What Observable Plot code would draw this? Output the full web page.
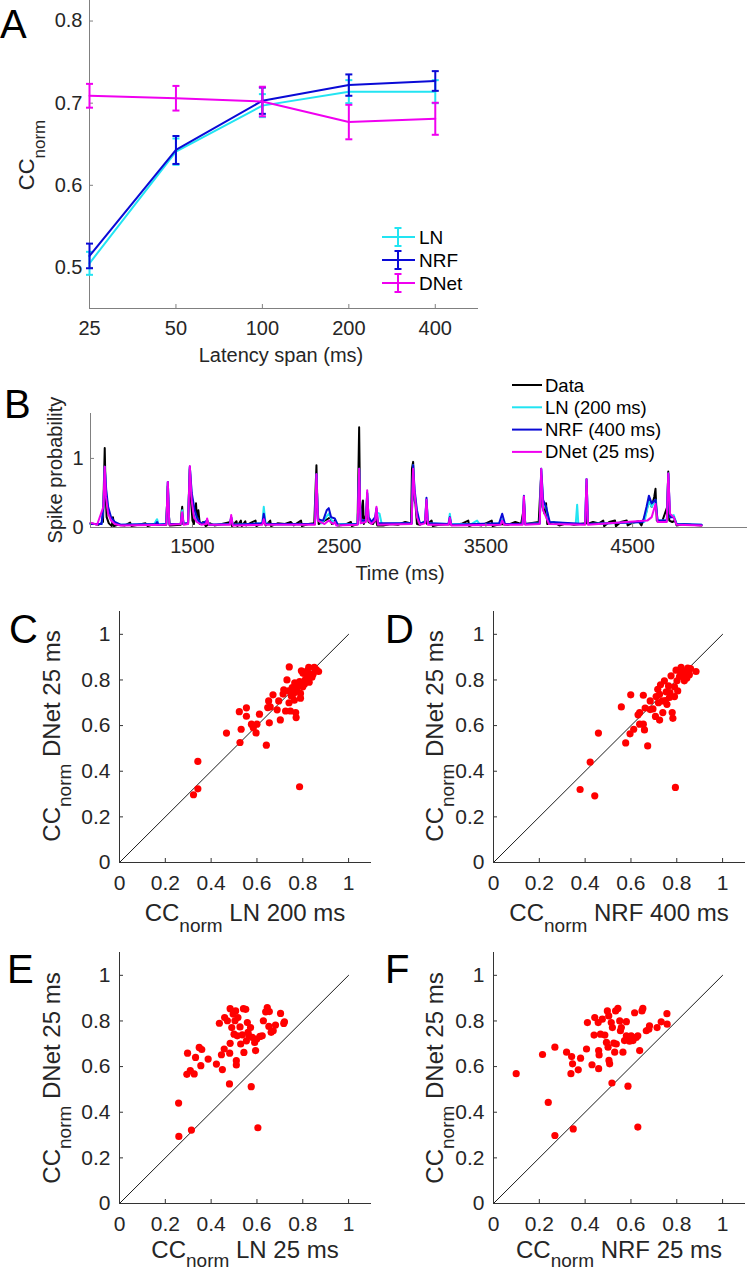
<!DOCTYPE html>
<html><head><meta charset="utf-8">
<script src="https://cdn.jsdelivr.net/npm/d3@7"></script>
<script src="https://cdn.jsdelivr.net/npm/@observablehq/plot@0.6"></script>
<style>
html,body{margin:0;padding:0;background:#fff;}
#fig{position:relative;width:747px;height:1275px;overflow:hidden;font-family:"Liberation Sans",Arial,sans-serif;}
.panel{position:absolute;}
.panel svg{overflow:visible;}
#overlay{position:absolute;left:0;top:0;pointer-events:none;}
</style></head><body><div id="fig"></div>
<script>
// ---------- Panel A data ----------
const latencies = [25, 50, 100, 200, 400];
const modelsA = ["LN", "NRF", "DNet"];
const colorsA = ["#22e4f2", "#0a0ad6", "#f000f0"];
const lnMean = [0.505, 0.641, 0.697, 0.714, 0.714];
const lnErr = [0.014, 0.016, 0.014, 0.014, 0.014];
const nrfMean = [0.514, 0.643, 0.703, 0.722, 0.727];
const nrfErr = [0.015, 0.017, 0.016, 0.013, 0.012];
const dnetMean = [0.709, 0.706, 0.702, 0.677, 0.681];
const dnetErr = [0.0145, 0.015, 0.018, 0.021, 0.0195];
const ticksA = [0.5, 0.6, 0.7, 0.8];

// ---------- Panel B data (time ms, spike probability) ----------
const seriesB = ["Data", "LN (200 ms)", "NRF (400 ms)", "DNet (25 ms)"];
const colorsB = ["#000000", "#22e4f2", "#0a0ad6", "#f000f0"];
const timeTicks = [1500, 2500, 3500, 4500];
const probTicks = [0, 1];
const dataTrace = [[805,0.06],[860,0.04],[890,0.08],[896,0.6],[902,1.15],[908,0.5],[915,0.15],[930,0.06],[950,0.02],[958,0.15],[965,0.02],[990,0.04],[1040,0.03],[1075,0.07],[1085,0.02],[1130,0.04],[1180,0.06],[1195,0.02],[1240,0.05],[1262,0.04],[1320,0.04],[1326,0.3],[1332,0.6],[1338,0.2],[1345,0.03],[1420,0.04],[1425,0.2],[1430,0.3],[1436,0.05],[1470,0.06],[1476,0.5],[1482,0.85],[1490,0.4],[1500,0.1],[1510,0.05],[1518,0.2],[1524,0.35],[1530,0.15],[1540,0.25],[1550,0.05],[1575,0.08],[1590,0.02],[1620,0.06],[1650,0.03],[1700,0.05],[1760,0.08],[1770,0.02],[1800,0.09],[1806,0.02],[1830,0.1],[1836,0.02],[1860,0.09],[1866,0.03],[1900,0.07],[1930,0.1],[1936,0.02],[1986,0.08],[2000,0.03],[2030,0.1],[2036,0.02],[2080,0.06],[2130,0.05],[2170,0.08],[2190,0.03],[2240,0.1],[2246,0.02],[2290,0.05],[2330,0.06],[2338,0.5],[2345,0.9],[2352,0.3],[2360,0.05],[2400,0.1],[2420,0.12],[2440,0.15],[2450,0.05],[2470,0.1],[2490,0.03],[2540,0.04],[2580,0.08],[2586,0.02],[2625,0.05],[2631,0.8],[2636,1.45],[2642,0.4],[2650,0.08],[2662,0.39],[2668,0.05],[2685,0.2],[2691,0.35],[2700,0.08],[2730,0.05],[2750,0.12],[2760,0.03],[2800,0.03],[2850,0.05],[2900,0.04],[2950,0.08],[2990,0.06],[2996,0.85],[3004,0.95],[3012,0.4],[3020,0.34],[3030,0.05],[3050,0.04],[3090,0.1],[3100,0.05],[3130,0.1],[3138,0.02],[3180,0.04],[3254,0.05],[3300,0.04],[3340,0.06],[3380,0.1],[3386,0.02],[3420,0.05],[3470,0.03],[3540,0.1],[3546,0.02],[3600,0.05],[3650,0.04],[3700,0.08],[3740,0.05],[3752,0.2],[3760,0.35],[3768,0.05],[3860,0.08],[3870,0.5],[3877,0.75],[3885,0.3],[3900,0.2],[3910,0.35],[3918,0.05],[3960,0.08],[4000,0.03],[4050,0.06],[4100,0.04],[4180,0.06],[4186,0.6],[4193,0.05],[4230,0.08],[4270,0.06],[4300,0.1],[4306,0.02],[4340,0.08],[4380,0.1],[4386,0.02],[4420,0.08],[4460,0.1],[4466,0.03],[4500,0.07],[4540,0.09],[4560,0.03],[4590,0.2],[4611,0.4],[4630,0.3],[4648,0.45],[4656,0.56],[4665,0.1],[4700,0.08],[4736,0.3],[4743,0.81],[4750,0.1],[4770,0.08],[4790,0.1],[4800,0.03],[4850,0.05],[4900,0.04],[4970,0.03]];
const lnTrace = [[805,0.05],[880,0.05],[893,0.3],[902,0.88],[912,0.5],[925,0.25],[945,0.12],[970,0.07],[1010,0.04],[1240,0.05],[1252,0.1],[1259,0.12],[1268,0.05],[1322,0.05],[1332,0.66],[1342,0.05],[1420,0.05],[1430,0.25],[1440,0.05],[1470,0.06],[1482,0.88],[1495,0.45],[1510,0.25],[1530,0.12],[1560,0.05],[1600,0.1],[1615,0.04],[1755,0.05],[1764,0.15],[1775,0.04],[1976,0.06],[1986,0.3],[1998,0.06],[2060,0.04],[2335,0.05],[2345,0.77],[2355,0.12],[2380,0.06],[2410,0.15],[2430,0.2],[2450,0.1],[2480,0.05],[2626,0.05],[2636,0.85],[2646,0.1],[2660,0.1],[2682,0.1],[2691,0.5],[2700,0.15],[2720,0.08],[2745,0.12],[2754,0.22],[2775,0.2],[2790,0.05],[2994,0.06],[3004,0.9],[3014,0.5],[3030,0.2],[3050,0.06],[3085,0.08],[3095,0.4],[3105,0.06],[3245,0.05],[3254,0.2],[3264,0.05],[3400,0.05],[3440,0.1],[3460,0.04],[3600,0.06],[3611,0.12],[3625,0.05],[3750,0.05],[3759,0.43],[3768,0.05],[3867,0.06],[3877,0.85],[3890,0.35],[3910,0.3],[3930,0.08],[4112,0.05],[4122,0.33],[4130,0.05],[4176,0.05],[4186,0.7],[4196,0.05],[4580,0.08],[4611,0.38],[4630,0.3],[4656,0.4],[4670,0.1],[4733,0.1],[4743,0.78],[4755,0.15],[4780,0.18],[4800,0.05],[4970,0.04]];
const nrfTrace = [[805,0.05],[880,0.05],[893,0.3],[902,0.88],[912,0.55],[925,0.3],[945,0.15],[970,0.08],[1010,0.04],[1250,0.05],[1259,0.08],[1268,0.04],[1322,0.05],[1332,0.66],[1342,0.05],[1420,0.05],[1430,0.2],[1440,0.05],[1470,0.06],[1482,0.88],[1495,0.5],[1515,0.25],[1535,0.12],[1560,0.05],[1600,0.1],[1615,0.04],[1755,0.05],[1764,0.15],[1775,0.04],[1976,0.06],[1986,0.2],[1998,0.05],[2335,0.05],[2345,0.77],[2355,0.12],[2390,0.1],[2415,0.25],[2429,0.28],[2445,0.15],[2470,0.13],[2490,0.04],[2626,0.05],[2636,0.85],[2646,0.1],[2682,0.1],[2691,0.5],[2700,0.15],[2720,0.08],[2745,0.15],[2754,0.28],[2765,0.06],[2994,0.06],[3004,0.9],[3014,0.55],[3030,0.25],[3050,0.06],[3085,0.08],[3095,0.43],[3105,0.06],[3245,0.05],[3254,0.15],[3264,0.04],[3590,0.06],[3611,0.2],[3630,0.05],[3750,0.05],[3759,0.46],[3768,0.05],[3867,0.06],[3877,0.85],[3890,0.4],[3910,0.3],[3935,0.08],[4176,0.05],[4186,0.7],[4196,0.05],[4570,0.08],[4595,0.3],[4611,0.46],[4630,0.35],[4656,0.4],[4670,0.1],[4733,0.1],[4743,0.78],[4755,0.15],[4780,0.15],[4800,0.05],[4970,0.04]];
const dnetTrace = [[805,0.07],[850,0.04],[893,0.3],[902,0.88],[910,0.45],[925,0.2],[945,0.1],[970,0.05],[1010,0.03],[1322,0.04],[1332,0.66],[1342,0.04],[1420,0.05],[1430,0.22],[1440,0.04],[1470,0.05],[1482,0.89],[1494,0.4],[1510,0.15],[1530,0.08],[1560,0.04],[1592,0.05],[1600,0.13],[1610,0.04],[1755,0.04],[1764,0.18],[1774,0.03],[1976,0.04],[1986,0.12],[1996,0.04],[2335,0.04],[2345,0.77],[2355,0.1],[2400,0.05],[2429,0.1],[2460,0.05],[2470,0.08],[2480,0.03],[2626,0.04],[2636,0.85],[2646,0.06],[2682,0.08],[2691,0.54],[2700,0.1],[2720,0.05],[2745,0.1],[2754,0.3],[2764,0.04],[2994,0.05],[3004,0.85],[3014,0.5],[3030,0.15],[3050,0.04],[3085,0.06],[3095,0.4],[3105,0.04],[3245,0.04],[3254,0.14],[3264,0.03],[3600,0.04],[3611,0.1],[3625,0.04],[3750,0.04],[3759,0.45],[3768,0.04],[3867,0.05],[3877,0.85],[3890,0.25],[3910,0.15],[3930,0.05],[4176,0.04],[4186,0.7],[4196,0.04],[4600,0.1],[4630,0.15],[4656,0.34],[4670,0.08],[4733,0.08],[4743,0.78],[4755,0.2],[4780,0.15],[4800,0.04],[4970,0.03]];

// ---------- Scatter panels (x, y) ----------
const scatterTicks = [0, 0.2, 0.4, 0.6, 0.8, 1];
const identity = [0, 1];
const panelC = [[0.323,0.297],[0.342,0.323],[0.342,0.443],[0.467,0.567],[0.526,0.526],[0.523,0.661],[0.531,0.584],[0.554,0.678],[0.554,0.641],[0.576,0.606],[0.584,0.591],[0.596,0.568],[0.600,0.606],[0.611,0.650],[0.641,0.514],[0.654,0.612],[0.651,0.708],[0.647,0.679],[0.658,0.682],[0.670,0.735],[0.688,0.669],[0.702,0.625],[0.695,0.708],[0.714,0.738],[0.717,0.757],[0.725,0.664],[0.731,0.800],[0.741,0.857],[0.740,0.700],[0.746,0.664],[0.750,0.730],[0.754,0.767],[0.760,0.741],[0.763,0.711],[0.769,0.657],[0.771,0.635],[0.765,0.787],[0.774,0.752],[0.786,0.332],[0.790,0.741],[0.786,0.793],[0.794,0.840],[0.801,0.829],[0.807,0.781],[0.810,0.799],[0.819,0.840],[0.826,0.855],[0.822,0.815],[0.833,0.826],[0.840,0.812],[0.850,0.855],[0.859,0.845],[0.869,0.837],[0.790,0.720],[0.738,0.752],[0.780,0.775],[0.815,0.805],[0.828,0.790],[0.800,0.770],[0.845,0.825]];
const panelD = [[0.378,0.320],[0.442,0.292],[0.422,0.440],[0.458,0.567],[0.558,0.682],[0.577,0.524],[0.599,0.735],[0.596,0.564],[0.612,0.584],[0.631,0.647],[0.638,0.657],[0.638,0.606],[0.654,0.733],[0.659,0.581],[0.654,0.606],[0.673,0.511],[0.662,0.677],[0.684,0.670],[0.684,0.708],[0.696,0.673],[0.707,0.640],[0.710,0.727],[0.717,0.759],[0.725,0.624],[0.725,0.737],[0.729,0.779],[0.739,0.657],[0.736,0.708],[0.746,0.796],[0.754,0.748],[0.757,0.693],[0.764,0.774],[0.768,0.723],[0.775,0.818],[0.780,0.657],[0.783,0.632],[0.794,0.329],[0.790,0.727],[0.797,0.843],[0.801,0.796],[0.804,0.752],[0.812,0.815],[0.819,0.855],[0.826,0.818],[0.833,0.796],[0.841,0.840],[0.848,0.852],[0.855,0.823],[0.844,0.809],[0.884,0.837],[0.790,0.770],[0.770,0.745],[0.815,0.838],[0.860,0.850],[0.750,0.710],[0.720,0.700]];
const panelE = [[0.258,0.440],[0.259,0.294],[0.314,0.322],[0.297,0.659],[0.294,0.566],[0.309,0.582],[0.326,0.568],[0.332,0.640],[0.348,0.684],[0.359,0.675],[0.355,0.604],[0.387,0.633],[0.423,0.611],[0.436,0.790],[0.445,0.652],[0.449,0.587],[0.457,0.677],[0.459,0.815],[0.471,0.801],[0.483,0.854],[0.481,0.659],[0.483,0.702],[0.480,0.524],[0.490,0.771],[0.496,0.830],[0.500,0.742],[0.507,0.844],[0.504,0.801],[0.510,0.626],[0.510,0.607],[0.514,0.735],[0.517,0.815],[0.526,0.774],[0.529,0.699],[0.536,0.739],[0.541,0.854],[0.543,0.662],[0.551,0.851],[0.554,0.713],[0.558,0.793],[0.561,0.750],[0.565,0.735],[0.572,0.771],[0.575,0.512],[0.580,0.728],[0.590,0.706],[0.594,0.670],[0.599,0.721],[0.604,0.332],[0.613,0.732],[0.623,0.735],[0.628,0.801],[0.638,0.840],[0.645,0.859],[0.652,0.776],[0.662,0.750],[0.671,0.757],[0.681,0.782],[0.703,0.833],[0.717,0.789],[0.720,0.796],[0.654,0.841]];
const panelF = [[0.099,0.569],[0.214,0.653],[0.239,0.443],[0.268,0.685],[0.268,0.298],[0.319,0.663],[0.341,0.644],[0.345,0.612],[0.338,0.569],[0.348,0.327],[0.370,0.586],[0.380,0.637],[0.406,0.677],[0.410,0.793],[0.430,0.608],[0.442,0.815],[0.439,0.738],[0.457,0.793],[0.459,0.591],[0.459,0.670],[0.461,0.651],[0.467,0.742],[0.475,0.808],[0.486,0.738],[0.493,0.706],[0.497,0.844],[0.500,0.685],[0.503,0.822],[0.507,0.612],[0.504,0.627],[0.514,0.793],[0.517,0.528],[0.519,0.771],[0.525,0.703],[0.529,0.663],[0.533,0.844],[0.536,0.699],[0.543,0.855],[0.551,0.800],[0.554,0.757],[0.558,0.771],[0.565,0.663],[0.572,0.714],[0.580,0.735],[0.580,0.797],[0.587,0.514],[0.594,0.711],[0.601,0.735],[0.609,0.714],[0.616,0.836],[0.623,0.728],[0.630,0.735],[0.630,0.335],[0.638,0.670],[0.648,0.844],[0.652,0.855],[0.667,0.757],[0.681,0.779],[0.678,0.764],[0.714,0.771],[0.732,0.796],[0.757,0.832],[0.758,0.786]];

// ---------- Rendering ----------
const FONT = '"Liberation Sans", Arial, sans-serif';
const fig = document.getElementById("fig");
function place(chart, left, top) {
  const d = document.createElement("div");
  d.className = "panel";
  d.style.left = left + "px";
  d.style.top = top + "px";
  d.appendChild(chart);
  fig.appendChild(d);
}
const baseStyle = (fs) => ({background: "transparent", fontFamily: FONT, fontSize: fs + "px", color: "#262626", overflow: "visible"});
const capSym = {draw(ctx, size) { const h = Math.sqrt(size / Math.PI); ctx.moveTo(-h, 0); ctx.lineTo(h, 0); }};

// Panel A
const meansA = [lnMean, nrfMean, dnetMean];
const errsA = [lnErr, nrfErr, dnetErr];
const marksA = [];
modelsA.forEach((m, k) => {
  const rows = latencies.map((L, i) => ({x: L, m: meansA[k][i], lo: meansA[k][i] - errsA[k][i], hi: meansA[k][i] + errsA[k][i]}));
  marksA.push(
    Plot.ruleX(rows, {x: "x", y1: "lo", y2: "hi", stroke: colorsA[k], strokeWidth: 2}),
    Plot.dot(rows, {x: "x", y: "hi", symbol: capSym, r: 3.5, fill: "none", stroke: colorsA[k], strokeWidth: 2}),
    Plot.dot(rows, {x: "x", y: "lo", symbol: capSym, r: 3.5, fill: "none", stroke: colorsA[k], strokeWidth: 2}),
    Plot.line(rows, {x: "x", y: "m", stroke: colorsA[k], strokeWidth: 2})
  );
});
const chartA = Plot.plot({
  width: 490, height: 370, marginLeft: 89, marginRight: 12, marginTop: 0, marginBottom: 62,
  style: baseStyle(20),
  x: {type: "log", domain: [latencies[0], latencies[4] * Math.SQRT2]},
  y: {domain: [0.45, 0.825]},
  marks: [
    Plot.ruleX([latencies[0]], {stroke: "#808080"}),
    Plot.ruleY([0.45], {stroke: "#808080"}),
    Plot.axisX({ticks: latencies, tickFormat: d => String(d), tickSize: -4, tickPadding: 16, label: null, stroke: "#808080", fill: "#262626"}),
    Plot.axisY({ticks: ticksA, tickFormat: d3.format(".1f"), tickSize: -4, tickPadding: 11, label: null, stroke: "#808080", fill: "#262626"}),
    ...marksA
  ]
});
place(chartA, 0, 0);

// Panel B
const traces = [dataTrace, lnTrace, nrfTrace, dnetTrace];
const chartB = Plot.plot({
  width: 747, height: 190, marginLeft: 90, marginRight: 0, marginTop: 13, marginBottom: 63,
  style: baseStyle(20),
  x: {domain: [805, 5283]},
  y: {domain: [0, 1.65]},
  marks: [
    ...traces.map((t, k) => Plot.line(t, {x: d => d[0], y: d => d[1], stroke: colorsB[k], strokeWidth: 2})),
    Plot.ruleX([805], {stroke: "#808080"}),
    Plot.ruleY([0], {stroke: "#808080"}),
    Plot.axisX({ticks: timeTicks, tickFormat: d => String(d), tickSize: -4, tickPadding: 15, label: null, stroke: "#808080", fill: "#262626"}),
    Plot.axisY({ticks: probTicks, tickFormat: d => String(d), tickSize: -4, tickPadding: 11, label: null, stroke: "#808080", fill: "#262626"})
  ]
});
place(chartB, 0, 400);

// Scatter panels
function scatter(pts, width, marginLeft, marginRight, marginBottom) {
  return Plot.plot({
    width, height: 11 + 251 + marginBottom, marginLeft, marginRight, marginTop: 11, marginBottom,
    style: baseStyle(21),
    x: {domain: [0, 1.1]}, y: {domain: [0, 1.1]},
    marks: [
      Plot.line(identity, {x: d => d, y: d => d, stroke: "#000", strokeWidth: 0.9}),
      Plot.dot(pts, {x: d => d[0], y: d => d[1], r: 3.6, fill: "#ff0000", stroke: "none"}),
      Plot.ruleX([0], {stroke: "#333"}),
      Plot.ruleY([0], {stroke: "#333"}),
      Plot.axisX({ticks: scatterTicks, tickFormat: d => String(d), tickSize: -4, tickPadding: 17, label: null, stroke: "#333", fill: "#262626"}),
      Plot.axisY({ticks: scatterTicks, tickFormat: d => String(d), tickSize: -4, tickPadding: 13, label: null, stroke: "#333", fill: "#262626"})
    ]
  });
}
place(scatter(panelC, 374, 119, 3, 70), 0, 600);
place(scatter(panelD, 373, 119, 2, 70), 374, 600);
place(scatter(panelE, 374, 119, 3, 72), 0, 941);
place(scatter(panelF, 373, 119, 2, 72), 374, 941);

// ---------- Overlay: labels, panel letters, legends ----------
const svg = d3.select(fig).append("svg").attr("id", "overlay")
  .attr("width", 747).attr("height", 1275)
  .style("font-family", FONT).attr("fill", "#262626");

function ccLabel(x, y, rest, big, small, sub, rotate) {
  const t = svg.append("text")
    .attr("text-anchor", "middle")
    .attr("transform", `translate(${x},${y})` + (rotate ? " rotate(-90)" : ""))
    .attr("font-size", big);
  t.append("tspan").text("CC");
  t.append("tspan").attr("font-size", small).attr("dy", sub).text("norm");
  if (rest) t.append("tspan").attr("dy", -sub).text(rest);
}
// A labels
ccLabel(34, 155, null, 22, 17, 11, true);
svg.append("text").attr("x", 281).attr("y", 362).attr("text-anchor", "middle").attr("font-size", 20).text("Latency span (ms)");
// B labels
svg.append("text").attr("transform", "translate(62,470) rotate(-90)").attr("text-anchor", "middle").attr("font-size", 20).text("Spike probability");
svg.append("text").attr("x", 400).attr("y", 580).attr("text-anchor", "middle").attr("font-size", 20).text("Time (ms)");
// Scatter labels
const xlabels = [" LN 200 ms", " NRF 400 ms", " LN 25 ms", " NRF 25 ms"];
const cols = [{cx: 245, ly: 60}, {cx: 619, ly: 443}];
const rows = [{base: 921, cy: 736, sub: 11}, {base: 1258, cy: 1078, sub: 9}];
[0, 1].forEach(r => [0, 1].forEach(c => {
  ccLabel(cols[c].cx, rows[r].base, xlabels[r * 2 + c], 24, 19, rows[r].sub, false);
  ccLabel(cols[c].ly, rows[r].cy, " DNet 25 ms", 24, 19, 11, true);
}));
// Panel letters
const letters = [["A", 0, 38], ["B", 4, 418], ["C", 9, 643], ["D", 385, 643], ["E", 7, 983], ["F", 385, 983]];
letters.forEach(([L, x, y]) => svg.append("text").attr("x", x).attr("y", y).attr("font-size", 40).attr("fill", "#000").text(L));

// Legend A (with error-bar swatches)
modelsA.forEach((m, k) => {
  const cy = 237 + k * 23;
  const g = svg.append("g").attr("stroke", colorsA[k]).attr("stroke-width", 2);
  g.append("line").attr("x1", 382).attr("x2", 415).attr("y1", cy).attr("y2", cy);
  g.append("line").attr("x1", 398).attr("x2", 398).attr("y1", cy - 9).attr("y2", cy + 9);
  g.append("line").attr("x1", 394.5).attr("x2", 401.5).attr("y1", cy - 9).attr("y2", cy - 9);
  g.append("line").attr("x1", 394.5).attr("x2", 401.5).attr("y1", cy + 9).attr("y2", cy + 9);
  svg.append("text").attr("x", 419).attr("y", cy + 7).attr("font-size", 19).attr("fill", "#000").text(m);
});
// Legend B
seriesB.forEach((s, k) => {
  const cy = 385 + k * 22.3;
  svg.append("line").attr("x1", 512).attr("x2", 542).attr("y1", cy).attr("y2", cy).attr("stroke", colorsB[k]).attr("stroke-width", 2);
  svg.append("text").attr("x", 545).attr("y", cy + 6.5).attr("font-size", 18.5).attr("fill", "#000").text(s);
});
</script>
</body></html>
